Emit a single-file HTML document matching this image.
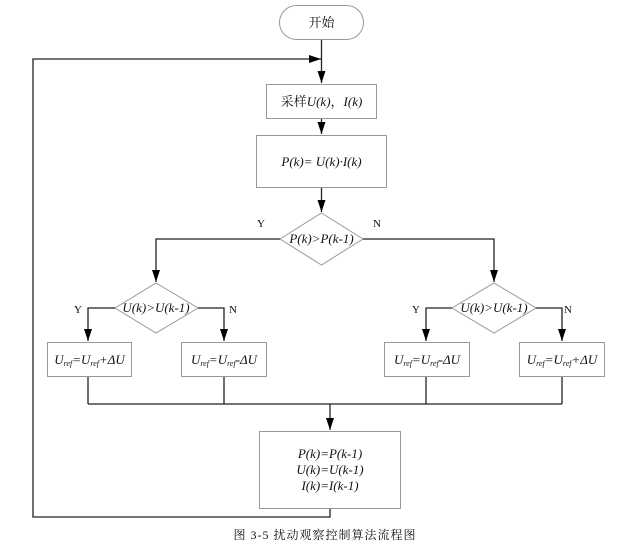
<!DOCTYPE html>
<html><head><meta charset="utf-8"><style>
html,body{margin:0;padding:0;background:#fff;}
svg{display:block;}
text{font-family:"Liberation Serif","Noto Serif CJK SC",serif;fill:#111;}
.m{font-style:italic;font-size:13px;}
.l{font-size:11px;}
</style></head><body>
<svg width="621" height="548" viewBox="0 0 621 548" xmlns="http://www.w3.org/2000/svg">
<defs><marker id="a" markerWidth="8" markerHeight="12" refX="4" refY="12" orient="0" markerUnits="userSpaceOnUse"><path d="M0,0 L8,0 L4,12 Z" fill="#000"/></marker>
<marker id="r" markerWidth="12" markerHeight="8" refX="12" refY="4" orient="0" markerUnits="userSpaceOnUse"><path d="M0,0 L12,4 L0,8 Z" fill="#000"/></marker></defs>
<g fill="none" stroke="#999" stroke-width="1">
<rect x="279.5" y="5.5" width="84" height="34" rx="17"/>
<rect x="266.5" y="84.5" width="110" height="34"/>
<rect x="256.5" y="135.5" width="130" height="52"/>
<polygon points="321.5,213 363,239 321.5,265 280,239"/>
<polygon points="156,283 198,308 156,333 115,308"/>
<polygon points="494,283 536,308 494,333 452,308"/>
<rect x="47.5" y="342.5" width="84" height="34"/>
<rect x="181.5" y="342.5" width="85" height="34"/>
<rect x="384.5" y="342.5" width="85" height="34"/>
<rect x="519.5" y="342.5" width="85" height="34"/>
<rect x="259.5" y="431.5" width="141" height="77"/>
</g>
<g fill="none" stroke="#222" stroke-width="1.3">
<path d="M321.5,40 V83" marker-end="url(#a)"/>
<path d="M321.5,119 V134" marker-end="url(#a)"/>
<path d="M321.5,188 V212" marker-end="url(#a)"/>
<path d="M280,239 H156 V282" marker-end="url(#a)"/>
<path d="M363,239 H494 V282" marker-end="url(#a)"/>
<path d="M115,308 H88 V341" marker-end="url(#a)"/>
<path d="M198,308 H224 V341" marker-end="url(#a)"/>
<path d="M452,308 H426 V341" marker-end="url(#a)"/>
<path d="M536,308 H562 V341" marker-end="url(#a)"/>
<path d="M88,377 V404 M224,377 V404 M426,377 V404 M562,377 V404 M88,404 H562"/>
<path d="M330,404 V430" marker-end="url(#a)"/>
<path d="M330,509 V517 H33 V59 H321" marker-end="url(#r)"/>
</g>
<text x="321.5" y="27" text-anchor="middle" font-size="13">开始</text>
<text x="321.5" y="106" text-anchor="middle" font-size="13">采样<tspan class="m">U(k)</tspan>，<tspan class="m">I(k)</tspan></text>
<text x="321.5" y="166" text-anchor="middle" class="m">P(k)= U(k)·I(k)</text>
<text x="321.5" y="243" text-anchor="middle" class="m">P(k)&gt;P(k-1)</text>
<text x="156" y="312" text-anchor="middle" class="m">U(k)&gt;U(k-1)</text>
<text x="494" y="312" text-anchor="middle" class="m">U(k)&gt;U(k-1)</text>
<text x="261" y="227" text-anchor="middle" class="l">Y</text>
<text x="377" y="227" text-anchor="middle" class="l">N</text>
<text x="78" y="313" text-anchor="middle" class="l">Y</text>
<text x="233" y="313" text-anchor="middle" class="l">N</text>
<text x="416" y="313" text-anchor="middle" class="l">Y</text>
<text x="568" y="313" text-anchor="middle" class="l">N</text>
<text x="89.5" y="364" text-anchor="middle" class="m">U<tspan font-size="8" dy="2">ref</tspan><tspan dy="-2">=U</tspan><tspan font-size="8" dy="2">ref</tspan><tspan dy="-2">+ΔU</tspan></text>
<text x="224" y="364" text-anchor="middle" class="m">U<tspan font-size="8" dy="2">ref</tspan><tspan dy="-2">=U</tspan><tspan font-size="8" dy="2">ref</tspan><tspan dy="-2">-ΔU</tspan></text>
<text x="427" y="364" text-anchor="middle" class="m">U<tspan font-size="8" dy="2">ref</tspan><tspan dy="-2">=U</tspan><tspan font-size="8" dy="2">ref</tspan><tspan dy="-2">-ΔU</tspan></text>
<text x="562" y="364" text-anchor="middle" class="m">U<tspan font-size="8" dy="2">ref</tspan><tspan dy="-2">=U</tspan><tspan font-size="8" dy="2">ref</tspan><tspan dy="-2">+ΔU</tspan></text>
<text x="330" y="458" text-anchor="middle" class="m">P(k)=P(k-1)</text>
<text x="330" y="474" text-anchor="middle" class="m">U(k)=U(k-1)</text>
<text x="330" y="490" text-anchor="middle" class="m">I(k)=I(k-1)</text>
<text x="325" y="539" text-anchor="middle" font-size="12" letter-spacing="1">图 3-5 扰动观察控制算法流程图</text>
</svg>
</body></html>
